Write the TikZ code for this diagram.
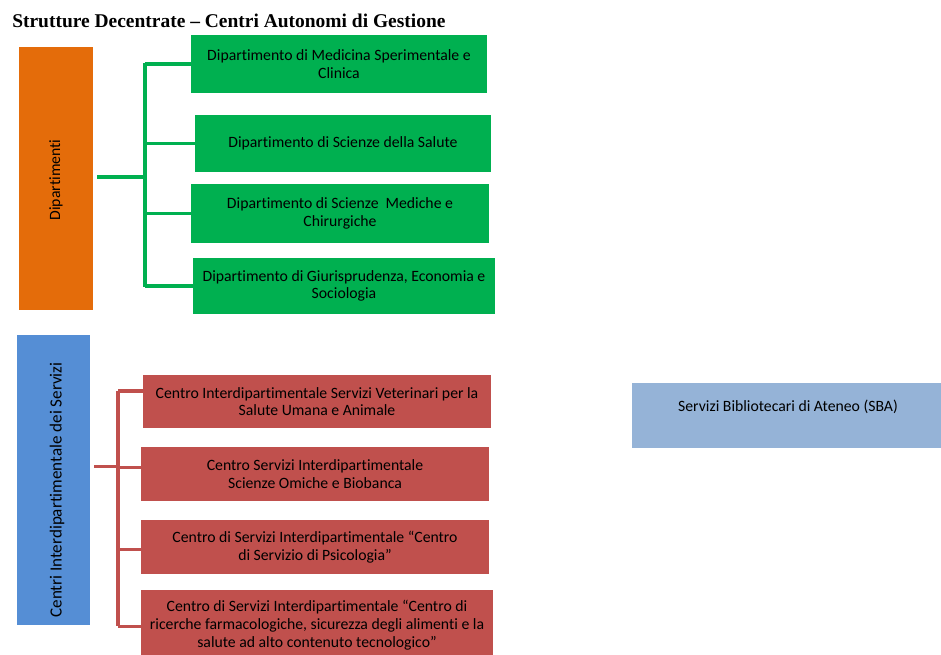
\documentclass[tikz,border=0pt]{standalone}
\usepackage{fontspec}
\setmainfont[Ligatures={TeX,NoCommon}]{Carlito}
\newfontfamily\titlefont{Liberation Serif}
\usetikzlibrary{positioning}
\newdimen\px \px=0.75pt

\definecolor{dipOrange}{HTML}{E46C0A}
\definecolor{dipGreen}{HTML}{00B050}
\definecolor{cenBlue}{HTML}{558ED5}
\definecolor{cenRed}{HTML}{C0504D}
\definecolor{sbaBlue}{HTML}{95B3D7}

\begin{document}
\begin{tikzpicture}[x=0.75pt,y=-0.75pt]
\tikzset{
  box/.style={inner sep=2pt, align=center, font=\fontsize{11.8}{13.3}\selectfont},
  gbox/.style={box, fill=dipGreen, minimum height=#1\px},
  rbox/.style={box, fill=cenRed, minimum width=348\px, minimum height=#1\px},
  gline/.style={draw=dipGreen, line width=2.5pt},
  rline/.style={draw=cenRed, line width=2.6pt}
}
\useasboundingbox (0,0) rectangle (941,655);

% titolo
\node[anchor=base west, inner sep=0pt, font=\titlefont\bfseries\fontsize{14.6}{16}\selectfont] (title) at (12,28) {Strutture Decentrate – Centri Autonomi di Gestione};

% dipartimenti
\node[box, fill=dipOrange, minimum width=74\px, minimum height=263\px] (dip) at (56,178.5) {};
\node[rotate=90, box] at (56,180) {Dipartimenti};

\node[gbox=58, minimum width=296\px] (d1) at (339,64) {Dipartimento di Medicina Sperimentale e\\Clinica};
\node[gbox=57, minimum width=296\px] (d2) at (343,143.5) {Dipartimento di Scienze della Salute};
\node[gbox=59, minimum width=298\px] (d3) at (340,213.5) {Dipartimento di Scienze\ \ Mediche e\\Chirurgiche};
\node[gbox=56, minimum width=302\px] (d4) at (344,286) {Dipartimento di Giurisprudenza, Economia e\\Sociologia};

\coordinate (gt) at (145,63);
\coordinate (gb) at (145,287);
\draw[gline] (gt) -- (gb);
\draw[gline, shorten <=3pt] ([yshift=1pt]dip.east) -- ([yshift=1pt]dip.east -| gt);
\draw[gline] (d1.west) -- (d1.west -| gt);
\draw[gline] (d2.west) -- (d2.west -| gt);
\draw[gline] (d3.west) -- (d3.west -| gt);
\draw[gline] (d4.west) -- (d4.west -| gt);

% centri
\node[box, fill=cenBlue, minimum width=73\px, minimum height=290\px] (cen) at (53.5,480) {};
\node[rotate=90, box, font=\fontsize{12.8}{14}\selectfont] at (57,490) {Centri Interdipartimentale dei Servizi};

\node[rbox=53] (c1) at (317,401.5) {Centro Interdipartimentale Servizi Veterinari per la\\Salute Umana e Animale};
\node[rbox=54] (c2) at (315,474) {Centro Servizi Interdipartimentale\\Scienze Omiche e Biobanca};
\node[rbox=54] (c3) at (315,547) {Centro di Servizi Interdipartimentale “Centro\\di Servizio di Psicologia”};
\node[rbox=70, minimum width=352\px] (c4) at (317,625) {Centro di Servizi Interdipartimentale “Centro di\\ricerche farmacologiche, sicurezza degli alimenti e la\\salute ad alto contenuto tecnologico”};

\coordinate (rt) at (118,391);
\coordinate (rb) at (118,626);
\draw[rline] (rt) -- (rb);
\draw[rline, shorten <=3pt] ([yshift=10pt]cen.east) -- ([yshift=10pt]cen.east -| rt);
\draw[rline] ([yshift=8pt]c1.west) -- ([yshift=8pt]c1.west -| rt);
\draw[rline] ([yshift=5pt]c2.west) -- ([yshift=5pt]c2.west -| rt);
\draw[rline] ([yshift=-2pt]c3.west) -- ([yshift=-2pt]c3.west -| rt);
\draw[rline] ([yshift=-1pt]c4.west) -- ([yshift=-1pt]c4.west -| rt);

% biblioteche
\node[box, fill=sbaBlue, minimum width=312\px, minimum height=65\px, text height=8pt, text depth=14pt] (sba) at (788,415.5) {Servizi Bibliotecari di Ateneo (SBA)};
\end{tikzpicture}
\end{document}
